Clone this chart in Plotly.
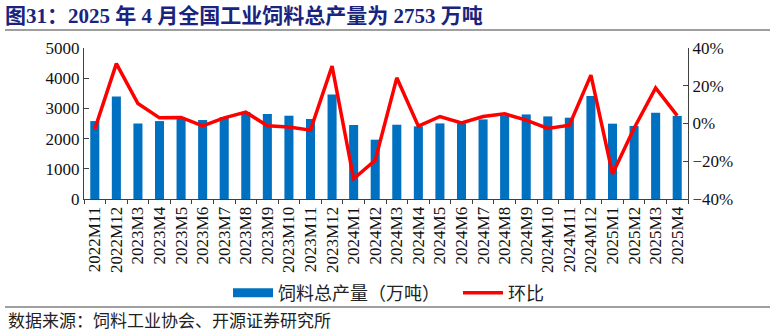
import plotly.graph_objects as go

categories = ["2022M11", "2022M12", "2023M3", "2023M4", "2023M5", "2023M6", "2023M7",
              "2023M8", "2023M9", "2023M10", "2023M11", "2023M12", "2024M1", "2024M2",
              "2024M3", "2024M4", "2024M5", "2024M6", "2024M7", "2024M8", "2024M9",
              "2024M10", "2024M11", "2024M12", "2025M1", "2025M2", "2025M3", "2025M4"]
output = [2580, 3390, 2500, 2580, 2680, 2615, 2715, 2880, 2815, 2758, 2650, 3464,
          2450, 1964, 2460, 2405, 2503, 2510, 2636, 2770, 2800, 2735, 2692, 3411,
          2494, 2417, 2858, 2753]
mom = [-0.03, 0.317, 0.106, 0.030, 0.032, -0.012, 0.030, 0.060, -0.012, -0.018,
       -0.035, 0.304, -0.293, -0.195, 0.242, -0.014, 0.037, 0.003, 0.037, 0.051,
       0.018, -0.026, -0.009, 0.256, -0.267, -0.025, 0.189, 0.042]

title_text = "图31：2025 年 4 月全国工业饲料总产量为 2753 万吨"
source_text = "数据来源：饲料工业协会、开源证券研究所"
bar_name = "饲料总产量（万吨）"
line_name = "环比"

serif = "Liberation Serif, Noto Sans CJK SC"
cjk = "Noto Sans CJK SC"
axis_col = "#404040"
bar_col = "#0070C0"

fig = go.Figure()
fig.add_trace(go.Bar(x=categories, y=output, name=bar_name, showlegend=False,
                     marker=dict(color=bar_col, line=dict(width=0))))
# legend-only entry so the key shows as a wide rectangle like the reference
fig.add_trace(go.Scatter(x=[None], y=[None], name=bar_name, mode="lines",
                         line=dict(color=bar_col, width=9)))
fig.add_trace(go.Scatter(x=categories, y=mom, name=line_name, yaxis="y2", mode="lines",
                         line=dict(color="#FF0000", width=3.5)))

W, H = 774, 333
L, R, T, B = 84, 86, 48, 134
pw, ph = W - L - R, H - T - B

def px(x):
    return (x - L) / pw

def py(y):
    return (H - B - y) / ph

fig.update_layout(
    width=W, height=H,
    margin=dict(l=L, r=R, t=T, b=B),
    plot_bgcolor="white", paper_bgcolor="white",
    bargap=0.58,
    showlegend=True,
    legend=dict(orientation="h", x=px(228), y=py(293), xanchor="left", yanchor="middle",
                font=dict(family=cjk, size=18, color="#222222"), itemwidth=40,
                entrywidth=175, entrywidthmode="pixels",
                bgcolor="rgba(0,0,0,0)", tracegroupgap=0),
    xaxis=dict(type="category", tickangle=-90, showline=True, linecolor=axis_col,
               ticks="outside", ticklen=4, tickcolor=axis_col, tickson="boundaries",
               tickfont=dict(family=serif, size=17, color="#111111"), showgrid=False),
    yaxis=dict(range=[0, 5000], dtick=1000, showline=True, linecolor=axis_col,
               ticks="inside", ticklen=5, tickcolor=axis_col, showgrid=False, zeroline=False,
               tickfont=dict(family=serif, size=17, color="#111111")),
    yaxis2=dict(range=[-0.4, 0.4], dtick=0.2, tickformat=".0%", overlaying="y", side="right",
                showline=True, linecolor=axis_col, ticks="inside", ticklen=5,
                tickcolor=axis_col, showgrid=False, zeroline=False,
                tickfont=dict(family=serif, size=17, color="#111111")),
    title=dict(text="<b>" + title_text + "</b>", xref="container", yref="container",
               x=5 / W, y=1 - 16 / H, xanchor="left", yanchor="middle",
               font=dict(family=serif, size=21, color="#1A237E")),
    shapes=[
        dict(type="line", xref="paper", yref="paper", x0=px(5), x1=px(770),
             y0=py(30), y1=py(30), line=dict(color="#7F7F7F", width=1.5)),
        dict(type="line", xref="paper", yref="paper", x0=px(5), x1=px(770),
             y0=py(307), y1=py(307), line=dict(color="#7F7F7F", width=1.5)),
    ],
    annotations=[
        dict(text=source_text, xref="paper", yref="paper", x=px(6), y=py(319),
             xanchor="left", yanchor="middle", showarrow=False,
             font=dict(family=cjk, size=17, color="#222222")),
    ],
)

fig.write_html("out.html")
